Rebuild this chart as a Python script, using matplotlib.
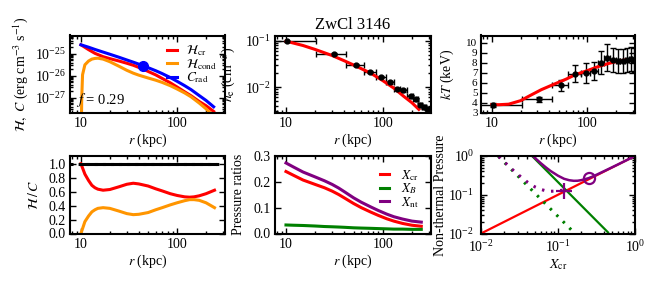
import numpy as np
import matplotlib
matplotlib.use('Agg')
import matplotlib.pyplot as plt
from matplotlib.ticker import FixedLocator, NullFormatter

plt.rcParams['font.family'] = ['Liberation Serif', 'DejaVu Serif']
plt.rcParams['mathtext.fontset'] = 'stix'
plt.rcParams['font.size'] = 10
plt.rcParams['axes.linewidth'] = 1.5
plt.rcParams['axes.labelpad'] = 1.5

# heating / cooling profiles (top left)
r_top = [10, 12, 14, 17, 20, 25, 30, 35, 40, 50, 60, 70, 85, 100, 120, 140, 170, 200, 240]
c_rad = [2.57e-25, 2.00e-25, 1.58e-25, 1.20e-25, 9.55e-26, 6.92e-26, 5.25e-26, 4.17e-26, 3.39e-26,
         2.34e-26, 1.70e-26, 1.26e-26, 8.32e-27, 5.62e-27, 3.55e-27, 2.34e-27, 1.26e-27, 7.59e-28, 3.89e-28]
h_cr = [2.57e-25, 1.55e-25, 1.05e-25, 7.41e-26, 6.03e-26, 4.68e-26, 3.72e-26, 3.02e-26, 2.40e-26,
        1.58e-26, 1.10e-26, 7.59e-27, 4.79e-27, 3.09e-27, 1.86e-27, 1.23e-27, 6.76e-28, 4.37e-28, 2.40e-28]
r_cond = [10.05, 10.2, 10.4, 11, 12, 13, 14, 15, 17, 20, 25, 30, 35, 40, 50, 60, 70, 85, 100, 120,
          140, 170, 200, 240]
h_cond = [1e-29, 1e-27, 1.12e-26, 3.16e-26, 4.68e-26, 5.75e-26, 6.17e-26, 6.31e-26, 5.75e-26, 4.37e-26,
          2.69e-26, 1.78e-26, 1.32e-26, 1.07e-26, 7.94e-27, 6.31e-27, 5.01e-27, 3.55e-27, 2.51e-27,
          1.66e-27, 1.10e-27, 5.75e-28, 3.16e-28, 1.45e-28]
r_dot = 44.3
c_dot = 2.88e-26

# density data + model
r_ne = [10.2, 31.1, 53.4, 73.6, 97, 120, 141, 163, 194, 218, 242, 266, 288]
r_ne_lo = [1, 20.6, 42, 63.6, 86, 109, 131, 152, 178, 206, 230, 254, 277]
r_ne_hi = [20.6, 42, 63.6, 86, 109, 131, 152, 178, 206, 230, 254, 277, 300]
ne = [0.097, 0.052, 0.030, 0.021, 0.0163, 0.0126, 0.0092, 0.0085, 0.0063, 0.0054, 0.0042, 0.0037, 0.0033]
ne_err = [0.004, 0.003, 0.0015, 0.001, 0.0008, 0.0007, 0.0006, 0.0006, 0.0005, 0.0004, 0.0004, 0.0004, 0.0004]
r_ne_mod = [10, 15, 20, 30, 40, 50, 75, 100, 130, 165, 200, 236]
ne_mod = [0.098, 0.079, 0.065, 0.048, 0.037, 0.030, 0.020, 0.0138, 0.0095, 0.0063, 0.0046, 0.0033]

# temperature data + model
r_kt = [10.4, 31.3, 52.7, 73.8, 96, 116, 140, 161, 185, 208, 235, 261, 287, 305]
r_kt_lo = [1, 20.5, 42.2, 63, 86, 106, 128, 151, 173, 197, 222, 248, 274, 296]
r_kt_hi = [20.5, 42.2, 63, 86, 106, 128, 151, 173, 197, 222, 248, 274, 296, 315]
kt = [3.8, 4.33, 5.73, 6.9, 7.0, 7.2, 8.0, 8.5, 8.23, 8.17, 8.17, 8.27, 8.33, 8.3]
kt_err = [0.2, 0.25, 0.55, 0.85, 1.0, 0.9, 1.15, 1.35, 1.2, 1.2, 1.2, 1.2, 1.2, 1.2]
r_kt_mod = [10, 12, 15, 20, 25, 33, 45, 60, 75, 100, 130, 165, 200, 254]
kt_mod = [3.8, 3.8, 3.85, 4.2, 4.7, 5.3, 5.85, 6.35, 6.8, 7.2, 7.6, 7.9, 8.1, 8.27]

# heating / cooling ratio (bottom left)
r_ratio = [10, 11, 12, 13, 14, 15, 17, 20, 25, 30, 35, 40, 50, 60, 70, 85, 100, 120, 135, 150, 170, 200, 245]
ratio_cr = [1.00, 0.85, 0.76, 0.69, 0.655, 0.635, 0.62, 0.63, 0.67, 0.705, 0.72, 0.71, 0.68, 0.64, 0.61,
            0.57, 0.545, 0.525, 0.52, 0.525, 0.54, 0.57, 0.62]
ratio_cond = [0.00, 0.17, 0.25, 0.31, 0.34, 0.36, 0.37, 0.36, 0.32, 0.285, 0.27, 0.275, 0.30, 0.34, 0.37,
              0.41, 0.44, 0.47, 0.485, 0.485, 0.475, 0.44, 0.37]
ratio_sum = [1.0] * len(r_ratio)

# pressure ratios (bottom middle)
r_p = [10, 12, 15, 20, 25, 30, 35, 40, 50, 60, 75, 90, 110, 130, 160, 200, 250]
x_cr = [0.240, 0.225, 0.207, 0.190, 0.177, 0.164, 0.151, 0.138, 0.116, 0.100, 0.083, 0.070, 0.057, 0.048,
        0.039, 0.032, 0.028]
x_b = [0.033, 0.032, 0.031, 0.029, 0.027, 0.026, 0.025, 0.024, 0.022, 0.021, 0.020, 0.019, 0.018, 0.017,
       0.017, 0.016, 0.016]
x_nt = [0.273, 0.257, 0.238, 0.219, 0.204, 0.190, 0.176, 0.162, 0.138, 0.121, 0.103, 0.089, 0.075, 0.065,
        0.056, 0.048, 0.044]

# non-thermal pressure vs X_cr (bottom right)
xcr_line = [0.01, 1.0]
xb_solid_x = [0.046, 0.446]
xb_solid_y = [1.0, 0.0107]
xb_dot_x = [0.0168, 0.166]
xb_dot_y = [0.98, 0.0100]
nt_solid_x = [0.046, 0.05, 0.06, 0.07, 0.08, 0.1, 0.12, 0.14, 0.16, 0.18, 0.2, 0.25, 0.3, 0.4, 0.6, 1.0]
nt_solid_y = [1.048, 0.898, 0.649, 0.503, 0.411, 0.31, 0.258, 0.237, 0.229, 0.23, 0.238, 0.268, 0.312,
              0.41, 0.605, 1.0]
nt_dot_x = [0.017, 0.0178, 0.02, 0.025, 0.03, 0.04, 0.05, 0.06, 0.07, 0.08, 0.09, 0.1, 0.115]
nt_dot_y = [0.97, 0.889, 0.71, 0.467, 0.337, 0.2125, 0.160, 0.137, 0.126, 0.123, 0.124, 0.127, 0.131]
plus_pt = (0.118, 0.128)
circ_pt = (0.25, 0.268)

red = '#ff0000'
orange = '#ff9500'
blue = '#0000ff'
green = '#008000'
purple = '#800080'
lw = 2.2

fig = plt.figure(figsize=(6.63, 2.88), dpi=100)
W, H = 663.0, 288.0
cols = [(70, 225), (275, 431), (481, 635)]
rows = [(35.5, 112.7), (156, 233.5)]
axs = []
for top, bot in rows:
    row = []
    for l, r in cols:
        row.append(fig.add_axes([l / W, 1 - bot / H, (r - l) / W, (bot - top) / H]))
    axs.append(row)

for row in axs:
    for ax in row:
        ax.tick_params(which='both', direction='in', top=True, right=True, width=1, labelsize=10, pad=3)
        ax.tick_params(which='major', length=4)
        ax.tick_params(which='minor', length=2)

xlim_r = (7.7, 315)

def r_axis(ax):
    ax.set_xscale('log')
    ax.set_xlim(xlim_r)
    ax.xaxis.set_major_locator(FixedLocator([10, 100]))
    ax.set_xticklabels(['10', '100'])
    ax.xaxis.set_minor_formatter(NullFormatter())
    ax.set_xlabel('$r$ (kpc)')

# top left
ax = axs[0][0]
ax.plot(r_top, h_cr, color=red, lw=lw, label=r'$\mathcal{H}_{\rm cr}$')
ax.plot(r_cond, h_cond, color=orange, lw=lw, label=r'$\mathcal{H}_{\rm cond}$')
ax.plot(r_top, c_rad, color=blue, lw=lw, label=r'$C_{\rm rad}$')
ax.plot([r_dot], [c_dot], 'o', color=blue, ms=7)
ax.set_yscale('log')
ax.set_ylim(2.1e-28, 6.8e-25)
r_axis(ax)
ax.set_ylabel(r'$\mathcal{H},\ C$ (erg cm$^{-3}$ s$^{-1}$)')
ax.yaxis.set_label_coords(-0.255, 0.5)
ax.text(0.04, 0.16, '$f$ = 0.29', transform=ax.transAxes, fontsize=10.5, va='center')
ax.legend(loc='upper right', frameon=False, handlelength=0.7, handletextpad=0.7,
          labelspacing=-0.1, borderaxespad=0.2, fontsize=9.5)

# top middle
ax = axs[0][1]
ne_xerr = [np.array(r_ne) - np.array(r_ne_lo), np.array(r_ne_hi) - np.array(r_ne)]
ax.errorbar(r_ne, ne, xerr=ne_xerr, yerr=ne_err, fmt='o', color='k', ms=3.5, lw=1, capsize=2.5)
ax.plot(r_ne_mod, ne_mod, color=red, lw=lw)
ax.set_yscale('log')
ax.set_ylim(2.8e-3, 0.13)
r_axis(ax)
ax.set_ylabel('$n_{\\rm e}$ (cm$^{-3}$)')
ax.yaxis.set_label_coords(-0.235, 0.5)
ax.set_title('ZwCl 3146', fontsize=12, pad=5)

# top right
ax = axs[0][2]
kt_xerr = [np.array(r_kt) - np.array(r_kt_lo), np.array(r_kt_hi) - np.array(r_kt)]
ax.errorbar(r_kt, kt, xerr=kt_xerr, yerr=kt_err, fmt='o', color='k', ms=3.5, lw=1, capsize=2.5)
ax.plot(r_kt_mod, kt_mod, color=red, lw=lw)
ax.set_ylim(3, 10.7)
ax.set_yticks(range(3, 11))
ax.tick_params(axis='y', labelsize=8, pad=2.5)
r_axis(ax)
ax.set_ylabel('$kT$ (keV)')
ax.yaxis.set_label_coords(-0.165, 0.5)

# bottom left
ax = axs[1][0]
ax.plot(r_ratio, ratio_cr, color=red, lw=lw)
ax.plot(r_ratio, ratio_cond, color=orange, lw=lw)
ax.plot(r_ratio, ratio_sum, color='k', lw=lw)
ax.axhline(1.0, color='k', ls=':', lw=lw)
ax.set_ylim(0, 1.11)
ax.set_yticks([0.0, 0.2, 0.4, 0.6, 0.8, 1.0])
ax.set_yticklabels(['0.0', '0.2', '0.4', '0.6', '0.8', '1.0'])
r_axis(ax)
ax.set_ylabel(r'$\mathcal{H}\,/\,C$')
ax.yaxis.set_label_coords(-0.19, 0.5)

# bottom middle
ax = axs[1][1]
ax.plot(r_p, x_cr, color=red, lw=lw, label=r'$X_{\rm cr}$')
ax.plot(r_p, x_b, color=green, lw=lw, label=r'$X_B$')
ax.plot(r_p, x_nt, color=purple, lw=lw, label=r'$X_{\rm nt}$')
ax.set_ylim(0, 0.3)
ax.set_yticks([0.0, 0.1, 0.2, 0.3])
ax.set_yticklabels(['0.0', '0.1', '0.2', '0.3'])
r_axis(ax)
ax.set_ylabel('Pressure ratios')
ax.yaxis.set_label_coords(-0.19, 0.5)
ax.legend(loc='upper right', frameon=False, handlelength=0.7, handletextpad=0.9,
          labelspacing=-0.1, borderaxespad=0.5, fontsize=9.5)

# bottom right
ax = axs[1][2]
ax.plot(xcr_line, xcr_line, color=red, lw=1.6)
ax.plot(xb_solid_x, xb_solid_y, color=green, lw=1.6)
ax.plot(xb_dot_x, xb_dot_y, color=green, lw=2.2, ls=(0, (0.8, 2.2)))
ax.plot(nt_solid_x, nt_solid_y, color=purple, lw=1.8)
ax.plot(nt_dot_x, nt_dot_y, color=purple, lw=2.2, ls=(0, (0.8, 2.2)))
ax.plot([plus_pt[0]], [plus_pt[1]], '+', color=purple, ms=12, mew=1.6)
ax.plot([circ_pt[0]], [circ_pt[1]], 'o', mfc='none', mec=purple, ms=8, mew=1.6)
ax.set_xscale('log')
ax.set_yscale('log')
ax.set_xlim(1e-2, 1)
ax.set_ylim(1e-2, 1)
ax.tick_params(axis='y', pad=5)
ax.tick_params(axis='x', pad=4)
ax.set_xlabel(r'$X_{\rm cr}$')
ax.set_ylabel('Non-thermal Pressure')
ax.yaxis.set_label_coords(-0.22, 0.5)

plt.savefig('out.png', dpi=100)
